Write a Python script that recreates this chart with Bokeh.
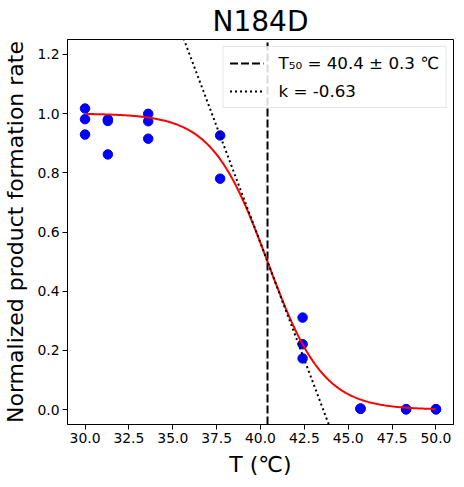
import numpy as np
from bokeh.plotting import figure
from bokeh.models import FixedTicker, NumeralTickFormatter, Range1d, Legend, LegendItem
from bokeh.embed import file_html
from bokeh.resources import INLINE

# ---- data ----
temps = [30.0, 30.0, 30.0, 31.3, 31.3, 31.3, 33.6, 33.6, 33.6,
         37.7, 37.7, 42.4, 42.4, 42.4, 45.7, 45.7, 48.3, 48.3, 50.0, 50.0]
rates = [1.017, 0.981, 0.929, 0.980, 0.975, 0.862, 0.999, 0.974, 0.915,
         0.926, 0.780, 0.311, 0.221, 0.173, 0.004, 0.003, 0.002, 0.001, 0.002, 0.001]

T50 = 40.4
T50_err = 0.3
k = -0.63
title = "N184D"
x_ticks = [30.0, 32.5, 35.0, 37.5, 40.0, 42.5, 45.0, 47.5, 50.0]
y_ticks = [0.0, 0.2, 0.4, 0.6, 0.8, 1.0, 1.2]
x_lo, x_hi = 29.0, 51.0
y_lo, y_hi = -0.05, 1.25

FONT = "DejaVu Sans"

# fitted logistic curve and its tangent at T50
Tfit = np.linspace(min(temps), max(temps), 300)
yfit = 1.0 / (1.0 + np.exp(-k * (Tfit - T50)))
Ttan = np.array([min(temps), max(temps)])
ytan = 0.5 + (k / 4.0) * (Ttan - T50)

p = figure(frame_width=386, frame_height=385,
           x_range=Range1d(x_lo, x_hi), y_range=Range1d(y_lo, y_hi),
           output_backend="svg", toolbar_location=None,
           min_border_left=60, min_border_right=2, min_border_top=32, min_border_bottom=54)

p.title.text = title
p.title.align = "center"
p.title.text_font = FONT
p.title.text_font_size = "28px"
p.title.text_font_style = "normal"
p.title.text_color = "black"
p.title.standoff = 4

p.scatter(temps, rates, size=9.5, color="#0000ff")
p.line(Tfit, yfit, color="#ff0000", line_width=2)
vl = p.segment(x0=[T50], y0=[y_lo], x1=[T50], y1=[y_hi], color="black",
               line_width=2, line_dash="8 3", level="underlay")
tl = p.line(Ttan, ytan, color="black", line_width=2, line_dash="2 3")

legend = Legend(items=[
    LegendItem(label=f"T\u2085\u2080 = {T50} \u00b1 {T50_err} \u2103", renderers=[vl]),
    LegendItem(label=f"k = {k}", renderers=[tl]),
], location="top_right")
legend.label_text_font = FONT
legend.label_text_font_size = "16.7px"
legend.label_text_color = "black"
legend.border_line_color = "#cccccc"
legend.background_fill_color = "white"
legend.background_fill_alpha = 0.85
legend.glyph_width = 34
legend.glyph_height = 20
legend.label_height = 20
legend.label_standoff = 15
legend.spacing = 8
legend.padding = 6
legend.margin = 7
p.add_layout(legend)

p.xgrid.visible = False
p.ygrid.visible = False
p.outline_line_color = "black"
p.outline_line_width = 1

p.xaxis.ticker = FixedTicker(ticks=x_ticks)
p.yaxis.ticker = FixedTicker(ticks=y_ticks)
p.xaxis.formatter = NumeralTickFormatter(format="0.0")
p.yaxis.formatter = NumeralTickFormatter(format="0.0")
p.xaxis.axis_label = "T (\u2103)"
p.yaxis.axis_label = "Normalized product formation rate"
for ax in (p.xaxis, p.yaxis):
    ax.axis_label_text_font = FONT
    ax.axis_label_text_font_size = "22px"
    ax.axis_label_text_font_style = "normal"
    ax.axis_label_text_color = "black"
    ax.major_label_text_font = FONT
    ax.major_label_text_font_size = "13.9px"
    ax.major_label_text_color = "black"
    ax.axis_line_color = "black"
    ax.major_tick_line_color = "black"
    ax.major_tick_out = 5
    ax.major_tick_in = 0
    ax.minor_tick_line_color = None
    ax.major_label_standoff = 3
    ax.axis_label_standoff = 6

open("out.html", "w").write(file_html(p, INLINE))
